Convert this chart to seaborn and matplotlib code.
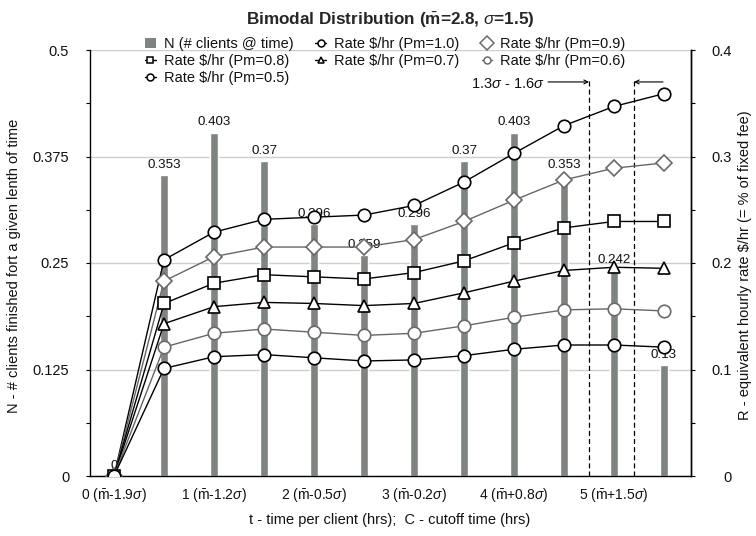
import matplotlib
matplotlib.use("Agg")
import matplotlib.pyplot as plt
from matplotlib.lines import Line2D
from matplotlib.patches import Patch
from matplotlib.ticker import MultipleLocator
import seaborn as sns
import pandas as pd

# ---------------- data ----------------
t_hours = [0, 0.5, 1, 1.5, 2, 2.5, 3, 3.5, 4, 4.5, 5, 5.5]
n_clients = [0, 0.353, 0.403, 0.37, 0.296, 0.259, 0.296, 0.37, 0.403, 0.353, 0.242, 0.13]

rate_pm10 = [0, 0.203, 0.229, 0.241, 0.243, 0.245, 0.254, 0.276, 0.303, 0.329, 0.347, 0.359]
rate_pm09 = [0, 0.183, 0.206, 0.215, 0.215, 0.215, 0.222, 0.239, 0.259, 0.278, 0.289, 0.294]
rate_pm08 = [0, 0.162, 0.181, 0.189, 0.187, 0.185, 0.191, 0.202, 0.219, 0.233, 0.239, 0.239]
rate_pm07 = [0, 0.143, 0.159, 0.163, 0.162, 0.160, 0.162, 0.172, 0.183, 0.193, 0.196, 0.195]
rate_pm06 = [0, 0.121, 0.134, 0.138, 0.135, 0.132, 0.134, 0.141, 0.149, 0.156, 0.157, 0.155]
rate_pm05 = [0, 0.101, 0.112, 0.114, 0.111, 0.108, 0.109, 0.113, 0.119, 0.123, 0.123, 0.121]

xtick_pos = [0, 1, 2, 3, 4, 5]
xtick_labels = [
    r"0 ($\bar{\mathrm{m}}$-1.9$\sigma$)",
    r"1 ($\bar{\mathrm{m}}$-1.2$\sigma$)",
    r"2 ($\bar{\mathrm{m}}$-0.5$\sigma$)",
    r"3 ($\bar{\mathrm{m}}$-0.2$\sigma$)",
    r"4 ($\bar{\mathrm{m}}$+0.8$\sigma$)",
    r"5 ($\bar{\mathrm{m}}$+1.5$\sigma$)",
]
left_ticks = [0, 0.125, 0.25, 0.375, 0.5]
left_tick_labels = ["0", "0.125", "0.25", "0.375", "0.5"]
right_ticks = [0, 0.1, 0.2, 0.3, 0.4]
right_tick_labels = ["0", "0.1", "0.2", "0.3", "0.4"]

cutoff_lo = 4.75   # m + 1.3 sigma
cutoff_hi = 5.2    # m + 1.6 sigma

series = [
    ("Rate $/hr (Pm=1.0)", rate_pm10, "o", "black", "black"),
    ("Rate $/hr (Pm=0.9)", rate_pm09, "D", "#666666", "#6a6a6a"),
    ("Rate $/hr (Pm=0.8)", rate_pm08, "s", "black", "black"),
    ("Rate $/hr (Pm=0.7)", rate_pm07, "^", "black", "black"),
    ("Rate $/hr (Pm=0.6)", rate_pm06, "o", "#666666", "#6a6a6a"),
    ("Rate $/hr (Pm=0.5)", rate_pm05, "o", "black", "black"),
]

# ---------------- style ----------------
sns.set_theme(style="white")
plt.rcParams["font.family"] = ["Liberation Sans", "DejaVu Sans"]
plt.rcParams["mathtext.fontset"] = "custom"
plt.rcParams["mathtext.rm"] = "Liberation Sans"
plt.rcParams["mathtext.it"] = "Liberation Sans:italic"
plt.rcParams["mathtext.bf"] = "Liberation Sans:bold"

FS = 10.5
W, H = 756, 536
fig = plt.figure(figsize=(W / 100, H / 100), dpi=100)
ax = fig.add_axes([90 / W, 60 / H, 601 / W, 426 / H])

bar_color = "#7f8481"
df_bars = pd.DataFrame({"t": t_hours, "n": n_clients})
sns.barplot(data=df_bars, x="t", y="n", native_scale=True, width=0.17,
            color=bar_color, saturation=1, errorbar=None, ax=ax, zorder=2)
ax.bar_label(ax.containers[0], labels=[f"{v:g}" for v in n_clients],
             padding=3, fontsize=9.6, color="#111111", zorder=3)

ax.set_xlim(-0.24, 5.77)
ax.set_ylim(0, 0.5)
ax.set_yticks(left_ticks)
ax.set_yticklabels(left_tick_labels)
ax.yaxis.set_minor_locator(MultipleLocator(0.0625))
ax.set_xticks(xtick_pos)
ax.set_xticklabels(xtick_labels)
ax.tick_params(axis="x", length=0, pad=7, labelsize=10, colors="#111111")
ax.tick_params(axis="y", which="both", direction="out", length=3, width=0.8,
               color="black", pad=12, labelsize=FS, labelcolor="#111111", left=True)
ax.yaxis.grid(True, color="#cfcfcf", linewidth=1)
ax.xaxis.grid(False)
ax.set_axisbelow(True)
ax.set_xlabel("")
ax.set_ylabel("")
ax.spines["top"].set_visible(False)
for s in ["left", "bottom", "right"]:
    ax.spines[s].set_color("black")
    ax.spines[s].set_linewidth(1)

# cutoff dashed lines
ax.vlines([cutoff_lo, cutoff_hi], 0, 0.466, colors="black", linestyles=(0, (4, 2.5)),
          linewidth=0.9, zorder=3)

# right axis with rate lines
ax2 = ax.twinx()
for label, vals, mk, lc, ec in series:
    sns.lineplot(x=t_hours, y=vals, ax=ax2, color=lc, linewidth=1,
                 marker=mk, markersize=(9 if mk != "D" else 8.5),
                 markerfacecolor="white", markeredgecolor=ec, markeredgewidth=1.2,
                 legend=False, zorder=4)
ax2.set_ylim(0, 0.4)
ax2.set_xlim(-0.24, 5.77)
ax2.set_yticks(right_ticks)
ax2.set_yticklabels(right_tick_labels, ha="right")
ax2.yaxis.set_minor_locator(MultipleLocator(0.05))
ax2.tick_params(axis="y", which="both", direction="out", length=3, width=0.8,
                color="black", pad=26, labelsize=FS, labelcolor="#111111", right=True)
ax2.set_ylabel("")
ax2.grid(False)
for s in ["top", "left", "bottom"]:
    ax2.spines[s].set_visible(False)
ax2.spines["right"].set_color("black")
ax2.spines["right"].set_linewidth(1)

# annotation
ax.text(4.31, 0.4605, r"1.3$\sigma$ - 1.6$\sigma$", ha="right", va="center",
        fontsize=FS, color="#111111")
ax.annotate("", xy=(cutoff_lo, 0.4625), xytext=(4.34, 0.4625),
            arrowprops=dict(arrowstyle="->", lw=0.8, color="black",
                            shrinkA=0, shrinkB=0, mutation_scale=7))
ax.annotate("", xy=(cutoff_hi, 0.4625), xytext=(5.49, 0.4625),
            arrowprops=dict(arrowstyle="->", lw=0.8, color="black",
                            shrinkA=0, shrinkB=0, mutation_scale=7))

# titles and labels
fig.text(390 / W, 1 - 20 / H,
         r"Bimodal Distribution ($\bar{\mathbf{m}}$=2.8, $\sigma$=1.5)",
         ha="center", va="center", fontsize=12.3, fontweight="bold")
fig.text(14 / W, 1 - 266 / H, "N - # clients finished fort a given lenth of time",
         rotation=90, ha="center", va="center", fontsize=FS, color="#111111")
fig.text(745 / W, 1 - 265 / H, "R - equivalent hourly rate $/hr (= % of fixed fee)",
         rotation=90, ha="center", va="center", fontsize=FS, color="#111111")
fig.text(390 / W, 1 - 520 / H, "t - time per client (hrs);  C - cutoff time (hrs)",
         ha="center", va="center", fontsize=FS, color="#111111")

# legend (row-major order via column ordering)
def mk_handle(mk, lc, ec, ms):
    return Line2D([0], [0], color=lc, lw=1, marker=mk, markersize=ms,
                  markerfacecolor="white", markeredgecolor=ec, markeredgewidth=1.1)

h_bar = Patch(facecolor=bar_color, edgecolor="none")
hs = {lab: mk_handle(mk, lc, ec, 5 if mk != "D" else 7)
      for lab, _, mk, lc, ec in series}
order = ["N (# clients @ time)", "Rate $/hr (Pm=0.8)", "Rate $/hr (Pm=0.5)",
         "Rate $/hr (Pm=1.0)", "Rate $/hr (Pm=0.7)",
         "Rate $/hr (Pm=0.9)", "Rate $/hr (Pm=0.6)"]
handles = [h_bar if lab.startswith("N") else hs[lab] for lab in order]
fig.legend(handles, order, loc="upper left", bbox_to_anchor=(145 / W, 1 - 37 / H),
           ncol=3, frameon=False, fontsize=FS, handlelength=0.75, handleheight=0.75,
           handletextpad=0.55, columnspacing=1.5, labelspacing=0.22,
           borderaxespad=0, borderpad=0, labelcolor="#111111")

fig.savefig("out.png", dpi=100)
